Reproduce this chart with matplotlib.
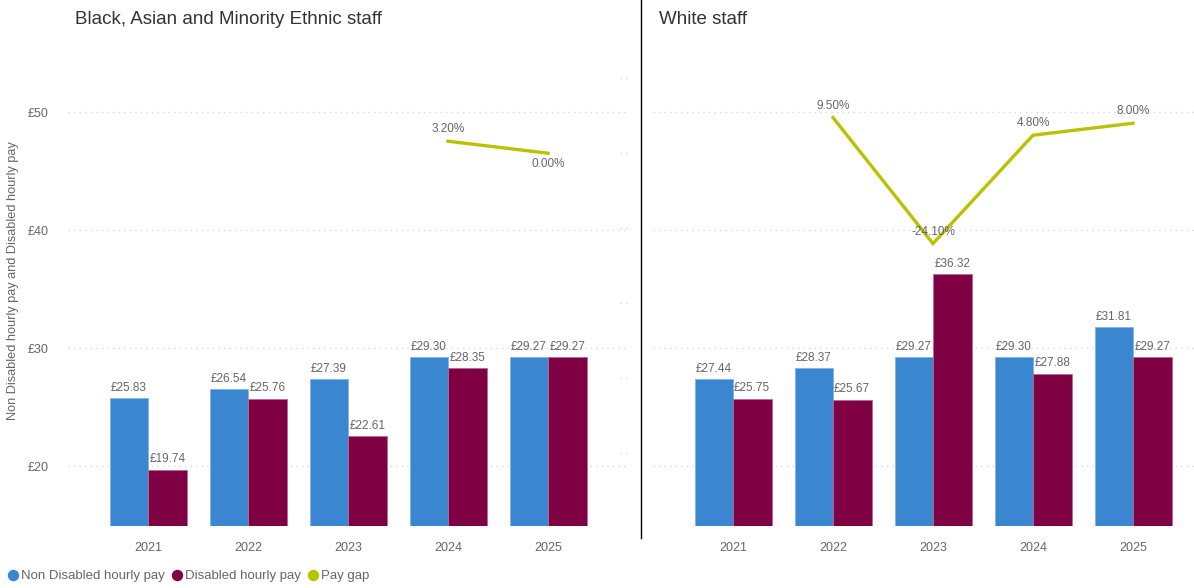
import numpy as np
import matplotlib
matplotlib.use("Agg")
import matplotlib.pyplot as plt
from matplotlib.lines import Line2D

plt.rcParams['font.family'] = ['Liberation Sans', 'DejaVu Sans']

years = ["2021", "2022", "2023", "2024", "2025"]

bame_non_disabled = [25.83, 26.54, 27.39, 29.30, 29.27]
bame_disabled = [19.74, 25.76, 22.61, 28.35, 29.27]
bame_pay_gap = [np.nan, np.nan, np.nan, 3.20, 0.00]

white_non_disabled = [27.44, 28.37, 29.27, 29.30, 31.81]
white_disabled = [25.75, 25.67, 36.32, 27.88, 29.27]
white_pay_gap = [np.nan, 9.50, -24.10, 4.80, 8.00]

panel_titles = ["Black, Asian and Minority Ethnic staff", "White staff"]
y_ticks = [20, 30, 40, 50]
legend_labels = ["Non Disabled hourly pay", "Disabled hourly pay", "Pay gap"]

BLUE = "#3A86D1"
MAROON = "#7F0043"
LINE = "#BAC200"
TXT = "#666666"
TITLE = "#333333"
GRID = "#DADADA"

W, H = 1194, 588
fig = plt.figure(figsize=(W / 100, H / 100), dpi=100)


def px_rect(x0, x1, ytop, ybot):
    return [x0 / W, 1 - ybot / H, (x1 - x0) / W, (ybot - ytop) / H]


ax_l = fig.add_axes(px_rect(68, 628, 40, 525.5))
ax_r = fig.add_axes(px_rect(653, 1194, 40, 525.5))

panels = [
    (ax_l, bame_non_disabled, bame_disabled, bame_pay_gap, (-0.8, 4.8), True),
    (ax_r, white_non_disabled, white_disabled, white_pay_gap, (-0.8, 4.61), False),
]

x = np.arange(len(years))
bw = 0.385

for ax, nd, d, gap, xl, show_y in panels:
    ax.set_xlim(*xl)
    ax.set_ylim(15, 56.14)
    for yv in y_ticks:
        ax.axhline(yv, color=GRID, lw=1, ls=(0, (1, 3)), zorder=0)
    b1 = ax.bar(x - bw / 2, nd, bw, color=BLUE, edgecolor="#7FB3E6", linewidth=0.6, zorder=2)
    b2 = ax.bar(x + bw / 2, d, bw, color=MAROON, edgecolor="#B86A96", linewidth=0.6, zorder=2)
    ax.bar_label(b1, labels=[f"£{v:.2f}" for v in nd], padding=3, fontsize=8.5, color=TXT)
    ax.bar_label(b2, labels=[f"£{v:.2f}" for v in d], padding=3, fontsize=8.5, color=TXT)
    ax.set_xticks(x)
    ax.set_xticklabels(years, fontsize=9, color=TXT)
    ax.tick_params(axis="x", length=0, pad=12)
    ax.set_yticks(y_ticks)
    if show_y:
        ax.set_yticklabels([f"£{v}" for v in y_ticks], fontsize=9, color=TXT)
        ax.tick_params(axis="y", length=0, pad=14)
    else:
        ax.set_yticklabels([])
        ax.tick_params(axis="y", length=0)
    for s in ax.spines.values():
        s.set_visible(False)

    ax2 = ax.twinx()
    ax2.set_ylim(-99.3, 30.2)
    ax2.set_xlim(*xl)
    ax2.plot(x, gap, color=LINE, lw=2.4, solid_joinstyle="miter", zorder=3)
    gap_arr = np.array(gap, dtype=float)
    valid = ~np.isnan(gap_arr)
    for i in np.where(valid)[0]:
        v = gap_arr[i]
        # label below when it is the last point and lower than the previous one
        below = (i > 0 and not np.isnan(gap_arr[i - 1]) and v < gap_arr[i - 1]
                 and i == len(gap_arr) - 1 and show_y)
        off = -11 if below else 12
        ax2.annotate(f"{v:.2f}%", (x[i], v), xytext=(0, off), textcoords="offset pixels",
                     ha="center", va="center", fontsize=8.5, color=TXT)
    ax2.set_yticks([])
    if show_y:
        for yv in range(-100, 21, 20):
            ax2.axhline(yv, xmin=0.985, xmax=1.0, color=GRID, lw=1, ls=(0, (1, 3)))
    for s in ax2.spines.values():
        s.set_visible(False)

ax_l.set_ylabel("Non Disabled hourly pay and Disabled hourly pay", fontsize=9.2, color=TXT)
ax_l.yaxis.set_label_coords(-(68 - 19) / 560, (525.5 - 281) / 485.5)

fig.text(75 / W, 1 - 20 / H, panel_titles[0], fontsize=13.5, color=TITLE, ha="left", va="center")
fig.text(659 / W, 1 - 20 / H, panel_titles[1], fontsize=13.5, color=TITLE, ha="left", va="center")

fig.add_artist(Line2D([641 / W, 641 / W], [1, 1 - 538 / H], color="black", lw=1))

handles = [
    Line2D([], [], ls="", marker="o", markersize=7.2, color=BLUE),
    Line2D([], [], ls="", marker="o", markersize=7.2, color=MAROON),
    Line2D([], [], ls="", marker="o", markersize=7.2, color=LINE),
]
fig.legend(handles, legend_labels, loc="center left", bbox_to_anchor=(7.7 / W, 1 - 576 / H),
           ncol=3, frameon=False, fontsize=9.5, handlelength=0.75, handletextpad=0.25,
           columnspacing=0.55, borderaxespad=0, borderpad=0, labelcolor=TXT)

fig.savefig("out.png", dpi=100)
